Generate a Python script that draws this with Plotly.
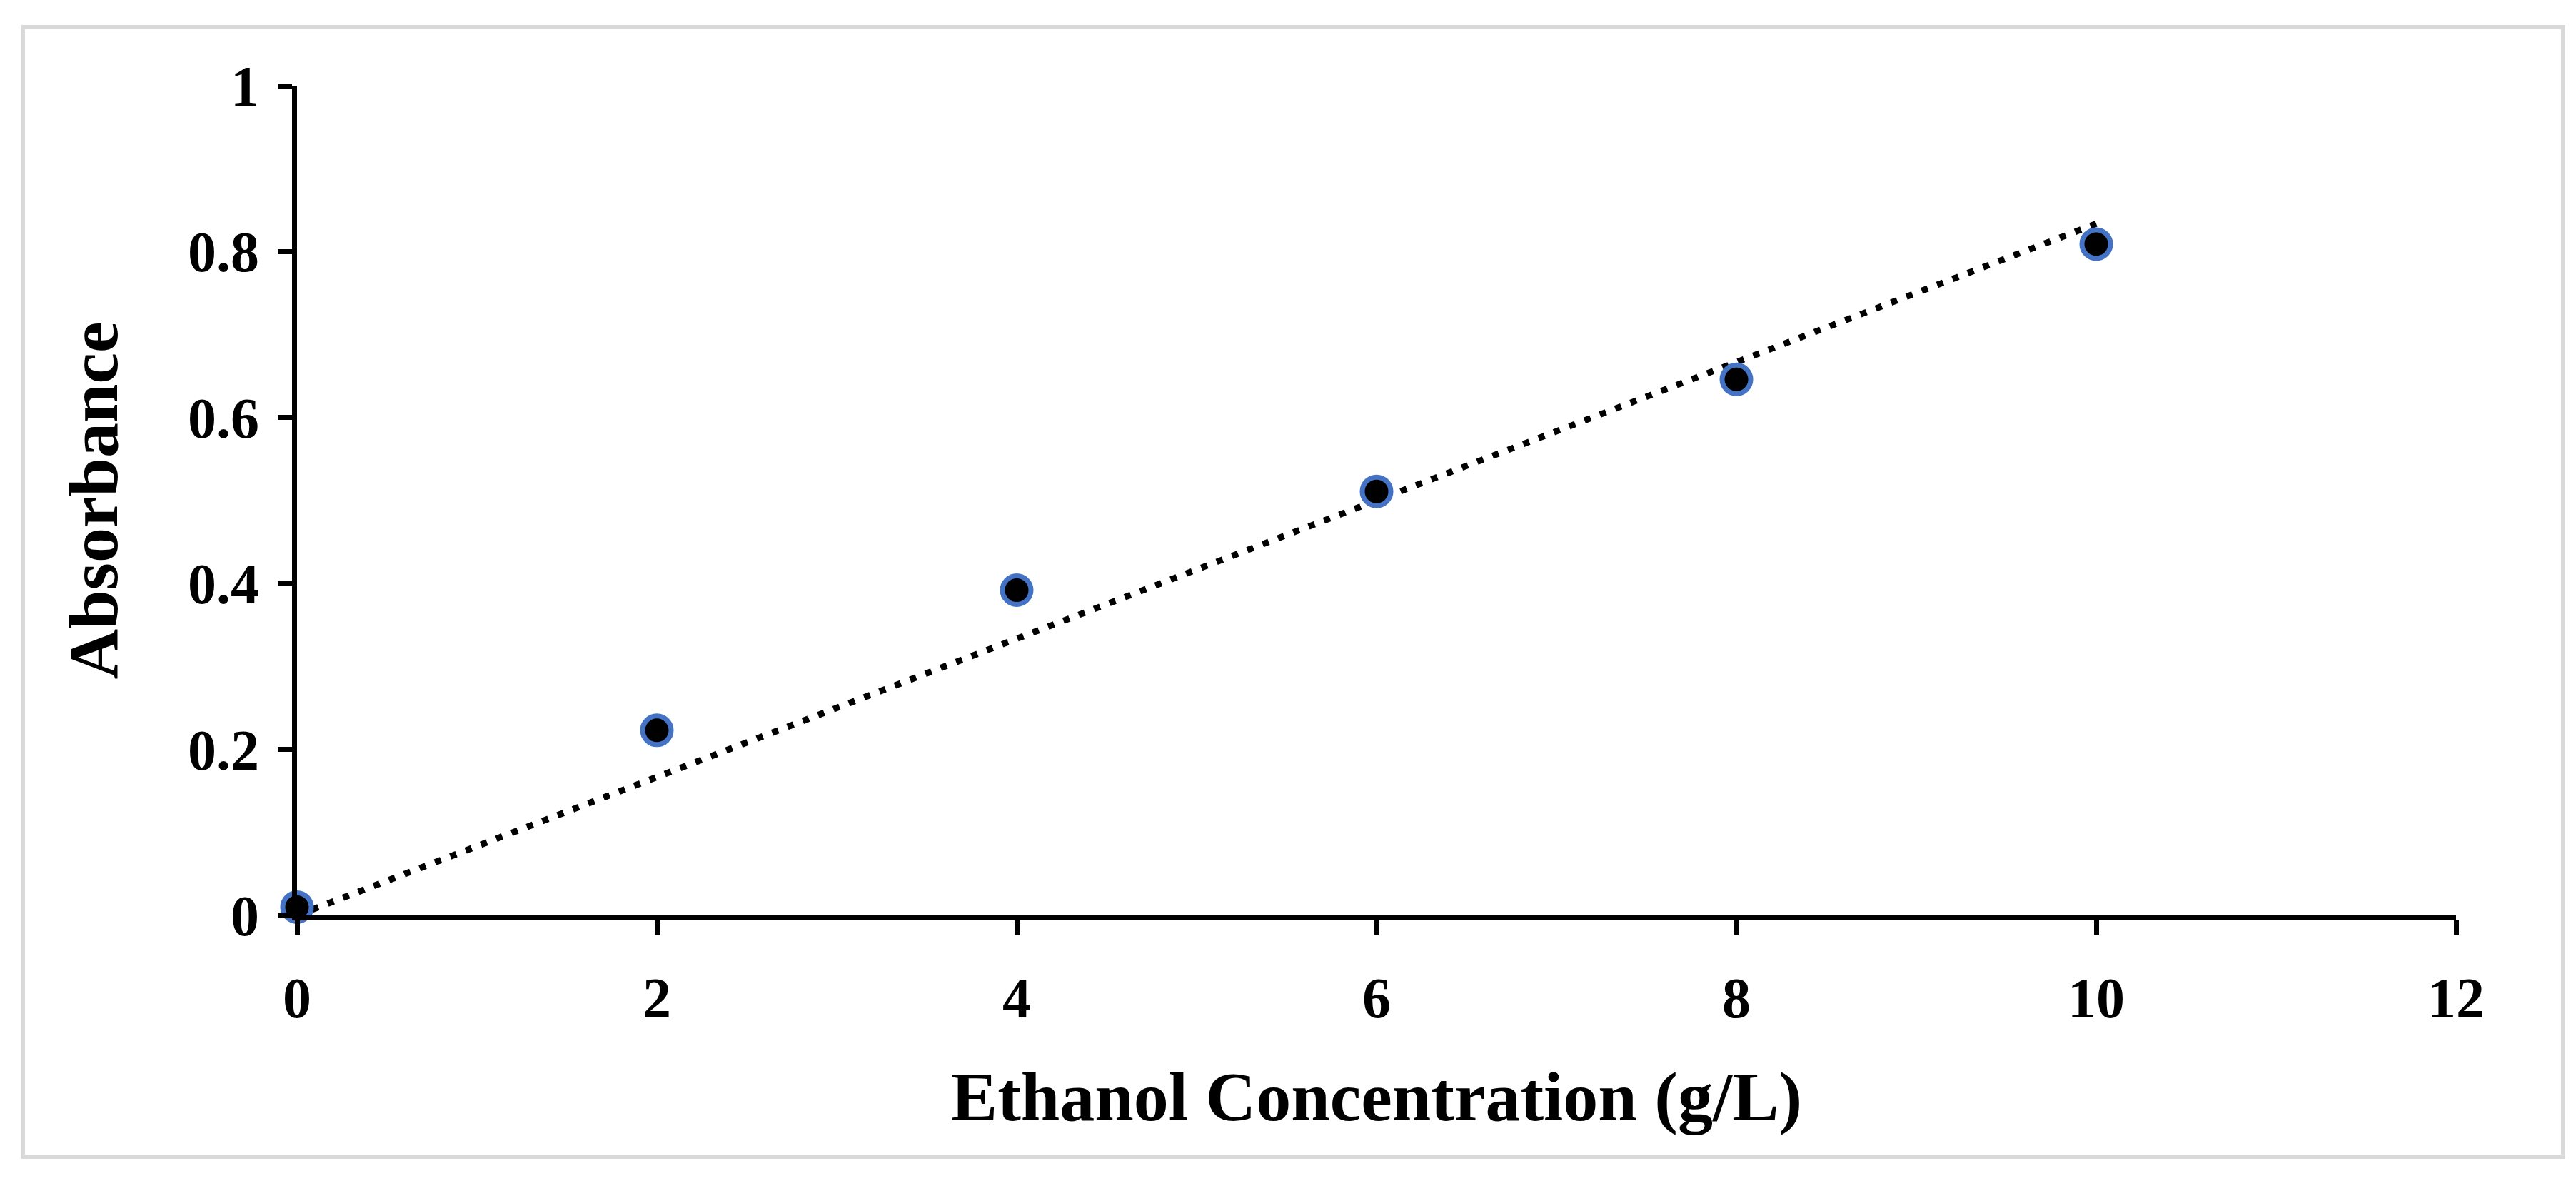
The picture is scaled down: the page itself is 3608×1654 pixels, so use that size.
import numpy as np
import plotly.graph_objects as go

# Data
concentration = [0, 2, 4, 6, 8, 10]
absorbance = [0.01, 0.223, 0.392, 0.511, 0.646, 0.809]
x_ticks = [0, 2, 4, 6, 8, 10, 12]
y_ticks = [0, 0.2, 0.4, 0.6, 0.8, 1]
y_tick_labels = ["0", "0.2", "0.4", "0.6", "0.8", "1"]

# Linear trendline through origin (least squares from data)
xa = np.array(concentration, dtype=float)
ya = np.array(absorbance, dtype=float)
slope = float((xa * ya).sum() / (xa * xa).sum())
trend_x = [min(concentration), max(concentration)]
trend_y = [slope * v for v in trend_x]

FONT = "Liberation Serif"
W, H = 3608, 1654
ml, mr, mt, mb = 408, 176, 112, 380

fig = go.Figure()
fig.add_trace(go.Scatter(
    x=trend_x, y=trend_y, mode="lines",
    line=dict(color="black", width=9, dash="9px,14px"),
    hoverinfo="skip", showlegend=False, cliponaxis=False,
))
fig.add_trace(go.Scatter(
    x=concentration, y=absorbance, mode="markers",
    marker=dict(size=40, color="black", line=dict(color="#4472C4", width=7)),
    showlegend=False, cliponaxis=False,
))

pw = W - ml - mr
ph = H - mt - mb
def px_to_paper_x(px):
    return (px - ml) / pw
def px_to_paper_y(py):
    return (H - mb - py) / ph

fig.add_shape(type="rect", xref="paper", yref="paper",
              x0=px_to_paper_x(24), x1=px_to_paper_x(3582),
              y0=px_to_paper_y(1612), y1=px_to_paper_y(30),
              line=dict(color="#d9d9d9", width=6), fillcolor="rgba(0,0,0,0)",
              layer="below")

fig.update_layout(
    width=W, height=H,
    margin=dict(l=ml, r=mr, t=mt, b=mb, autoexpand=False),
    paper_bgcolor="white", plot_bgcolor="white",
    font=dict(family=FONT, color="black"),
    xaxis=dict(
        range=[0, 12], tickvals=x_ticks, ticktext=[str(v) for v in x_ticks],
        showgrid=False, zeroline=False, showline=True, linecolor="black", linewidth=7,
        ticks="outside", ticklen=20, tickwidth=7, tickcolor="black",
        tickfont=dict(family=FONT, size=80, color="black", weight="bold"),
        ticklabelstandoff=20,
        title=dict(text="<b>Ethanol Concentration (g/L)</b>",
                   font=dict(family=FONT, size=98, color="black"), standoff=62),
    ),
    yaxis=dict(
        range=[0, 1], tickvals=y_ticks, ticktext=y_tick_labels,
        showgrid=False, zeroline=False, showline=True, linecolor="black", linewidth=7,
        ticks="outside", ticklen=20, tickwidth=7, tickcolor="black",
        tickfont=dict(family=FONT, size=80, color="black", weight="bold"),
        ticklabelstandoff=10,
        title=dict(text="<b>Absorbance</b>",
                   font=dict(family=FONT, size=98, color="black"), standoff=68),
    ),
)

fig.write_html("out.html")
